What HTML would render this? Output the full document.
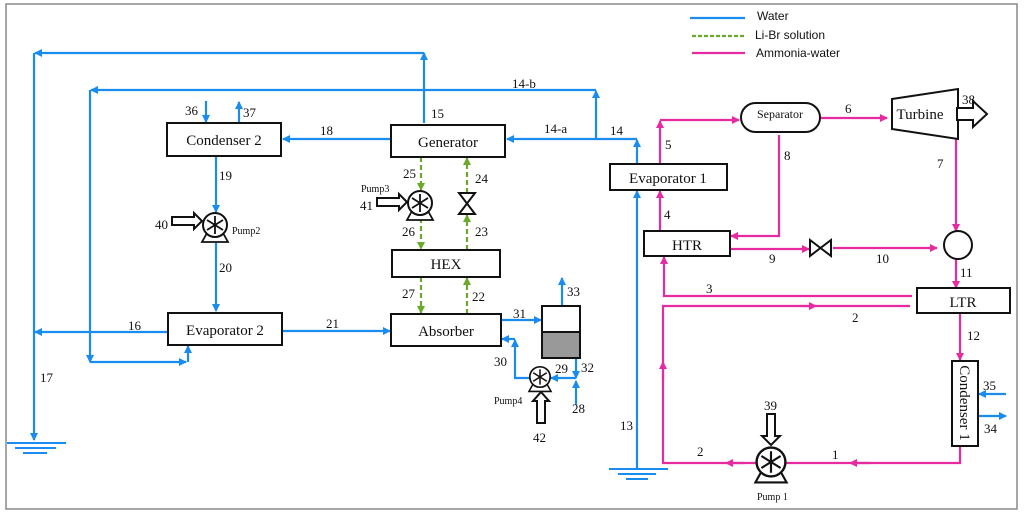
<!DOCTYPE html>
<html><head><meta charset="utf-8"><style>
html,body{margin:0;padding:0;background:#fff;}
svg{display:block;}
.t{font-family:"Liberation Serif",serif;font-size:13px;fill:#111;}
.bx{font-family:"Liberation Serif",serif;font-size:15px;fill:#111;}
.lg{font-family:"Liberation Sans",sans-serif;font-size:12px;fill:#111;}
.b{stroke:#1a8cf0;stroke-width:2.2;fill:none;}
.p{stroke:#e62aa0;stroke-width:2.2;fill:none;}
.g{stroke:#6aaa2a;stroke-width:2.2;fill:none;stroke-dasharray:5,3;}
.k{stroke:#111;stroke-width:2;fill:#fff;}
</style></head><body>
<svg width="1024" height="518" viewBox="0 0 1024 518" xmlns="http://www.w3.org/2000/svg">
<defs>
<marker id="mb" markerWidth="8" markerHeight="8" refX="7" refY="4" orient="auto" markerUnits="userSpaceOnUse"><path d="M0,0 L8,4 L0,8 z" fill="#1a8cf0"/></marker>
<marker id="mp" markerWidth="8" markerHeight="8" refX="7" refY="4" orient="auto" markerUnits="userSpaceOnUse"><path d="M0,0 L8,4 L0,8 z" fill="#e62aa0"/></marker>
<marker id="mg" markerWidth="8" markerHeight="8" refX="7" refY="4" orient="auto" markerUnits="userSpaceOnUse"><path d="M0,0 L8,4 L0,8 z" fill="#6aaa2a"/></marker>
<g id="pump">
<path d="M-8,8 L-13,17 L13,17 L8,8" stroke="#111" stroke-width="1.8" fill="#fff"/>
<circle r="12" stroke="#111" stroke-width="2" fill="#fff"/>
<path d="M0,-9 L0,9 M-8,-5 L8,5 M-8,5 L8,-5" stroke="#111" stroke-width="1.8"/>
</g>
</defs>
<rect x="6" y="4" width="1011" height="505" fill="none" stroke="#888" stroke-width="1.5"/>

<!-- legend -->
<line x1="690" y1="18" x2="745" y2="18" class="b"/>
<text x="757" y="20" class="lg">Water</text>
<line x1="692" y1="36" x2="745" y2="36" class="g" style="stroke-dasharray:4,2"/>
<text x="755" y="39" class="lg">Li-Br solution</text>
<line x1="692" y1="53" x2="745" y2="53" class="p"/>
<text x="756" y="57" class="lg">Ammonia-water</text>

<!-- blue water lines -->
<path d="M424,123 L424,53" class="b" marker-end="url(#mb)"/>
<path d="M424,53 L35,53" class="b" marker-end="url(#mb)"/>
<path d="M34,53 L34,440" class="b" marker-end="url(#mb)"/>
<path d="M7,443 L66,443 M15,448 L56,448 M23,453 L47,453" stroke="#1a8cf0" stroke-width="2"/>
<path d="M596,139 L596,91" class="b" marker-end="url(#mb)"/>
<path d="M596,90 L91,90" class="b" marker-end="url(#mb)"/>
<path d="M90,90 L90,362" class="b" marker-end="url(#mb)"/>
<path d="M90,362 L186,362" class="b" marker-end="url(#mb)"/>
<path d="M188,362 L188,346" class="b" marker-end="url(#mb)"/>
<path d="M637,164 L637,140" class="b" marker-end="url(#mb)"/>
<path d="M637,139 L507,139" class="b" marker-end="url(#mb)"/>
<path d="M391,139 L283,139" class="b" marker-end="url(#mb)"/>
<path d="M206,101 L206,122" class="b" marker-end="url(#mb)"/>
<path d="M239,123 L239,102" class="b" marker-end="url(#mb)"/>
<path d="M216,156 L216,212" class="b" marker-end="url(#mb)"/>
<path d="M216,243 L216,311" class="b" marker-end="url(#mb)"/>
<path d="M168,332 L35,332" class="b" marker-end="url(#mb)"/>
<path d="M282,331 L390,331" class="b" marker-end="url(#mb)"/>
<path d="M501,320 L541,320" class="b" marker-end="url(#mb)"/>
<path d="M562,306 L562,278" class="b" marker-end="url(#mb)"/>
<path d="M576,358 L576,378" class="b" marker-end="url(#mb)"/>
<path d="M576,405 L576,381" class="b" marker-end="url(#mb)"/>
<path d="M576,378 L551,378" class="b" marker-end="url(#mb)"/>
<path d="M530,378 L515,378 L515,340" class="b" marker-end="url(#mb)"/>
<path d="M515,339 L502,339" class="b" marker-end="url(#mb)"/>
<path d="M637,470 L637,191" class="b" marker-end="url(#mb)"/>
<path d="M609,469 L668,469 M618,474 L656,474 M626,479 L648,479" stroke="#1a8cf0" stroke-width="2"/>
<path d="M1006,394 L979,394" class="b" marker-end="url(#mb)"/>
<path d="M978,416 L1006,416" class="b" marker-end="url(#mb)"/>

<!-- green -->
<path d="M421,157 L421,190" class="g" marker-end="url(#mg)"/>
<path d="M421,218 L421,249" class="g" marker-end="url(#mg)"/>
<path d="M467,193 L467,158" class="g" marker-end="url(#mg)"/>
<path d="M467,250 L467,215" class="g" marker-end="url(#mg)"/>
<path d="M421,277 L421,313" class="g" marker-end="url(#mg)"/>
<path d="M467,314 L467,278" class="g" marker-end="url(#mg)"/>

<!-- pink -->
<path d="M660,164 L660,121" class="p" marker-end="url(#mp)"/>
<path d="M660,120 L739,120" class="p" marker-end="url(#mp)"/>
<path d="M819,118 L887,118" class="p" marker-end="url(#mp)"/>
<path d="M956,139 L956,231" class="p" marker-end="url(#mp)"/>
<path d="M779,135 L779,236 L731,236" class="p" marker-end="url(#mp)"/>
<path d="M660,231 L660,191" class="p" marker-end="url(#mp)"/>
<path d="M724,249 L809,249" class="p" marker-end="url(#mp)"/>
<path d="M833,248 L937,248" class="p" marker-end="url(#mp)"/>
<path d="M956,259 L956,288" class="p" marker-end="url(#mp)"/>
<path d="M912,296 L664,296 L664,257" class="p" marker-end="url(#mp)"/>
<path d="M910,306 L663,306 L663,463 L756,463" class="p"/>
<path d="M663,380 L663,362" class="p" marker-end="url(#mp)"/>
<path d="M800,306 L816,306" class="p" marker-end="url(#mp)"/>
<path d="M745,463 L726,463" class="p" marker-end="url(#mp)"/>
<path d="M960,446 L960,463 L785,463" class="p"/>
<path d="M870,463 L850,463" class="p" marker-end="url(#mp)"/>
<path d="M960,313 L960,360" class="p" marker-end="url(#mp)"/>

<!-- boxes -->
<rect x="167" y="123" width="114" height="33" class="k"/><text x="224" y="145" class="bx" text-anchor="middle">Condenser 2</text>
<rect x="391" y="125" width="114" height="32" class="k"/><text x="448" y="147" class="bx" text-anchor="middle">Generator</text>
<rect x="168" y="313" width="114" height="32" class="k"/><text x="225" y="335" class="bx" text-anchor="middle">Evaporator 2</text>
<rect x="392" y="250" width="108" height="27" class="k"/><text x="446" y="269" class="bx" text-anchor="middle">HEX</text>
<rect x="391" y="314" width="110" height="32" class="k"/><text x="446" y="336" class="bx" text-anchor="middle">Absorber</text>
<rect x="610" y="164" width="117" height="26" class="k"/><text x="668" y="183" class="bx" text-anchor="middle">Evaporator 1</text>
<rect x="644" y="231" width="86" height="25" class="k"/><text x="687" y="250" class="bx" text-anchor="middle">HTR</text>
<rect x="917" y="288" width="93" height="25" class="k"/><text x="963" y="307" class="bx" text-anchor="middle">LTR</text>
<rect x="952" y="361" width="26" height="85" class="k"/><text x="0" y="0" class="bx" text-anchor="middle" transform="translate(960,403) rotate(90)">Condenser 1</text>
<rect x="741" y="103" width="79" height="29" rx="14.5" class="k"/><text x="780" y="118" class="t" text-anchor="middle" style="font-size:12px">Separator</text>
<path d="M892,99 L958,89 L958,139 L892,129 Z" class="k"/><text x="920" y="119" class="bx" text-anchor="middle">Turbine</text>
<path d="M957,108 L973,108 L973,101 L987,114 L973,127 L973,120 L957,120 Z" class="k"/>
<circle cx="958" cy="245" r="14" class="k"/>
<rect x="542" y="306" width="38" height="26" class="k"/><rect x="542" y="332" width="38" height="26" stroke="#111" stroke-width="2" fill="#999"/>
<!-- valves -->
<path d="M810,240 L831,256 L831,240 L810,256 Z" class="k"/>
<path d="M459,193 L475,193 L459,214 L475,214 Z" class="k"/>
<!-- pumps -->
<use href="#pump" x="215" y="225"/>
<use href="#pump" x="420" y="203"/>
<use href="#pump" x="540" y="377" transform="translate(540 377) scale(0.85) translate(-540 -377)"/>
<use href="#pump" x="771" y="462" transform="translate(771 462) scale(1.2) translate(-771 -462)"/>
<!-- block arrows -->
<path d="M172,217 L194,217 L194,213 L202,221 L194,229 L194,225 L172,225 Z" class="k"/>
<path d="M377,198 L399,198 L399,194 L407,202 L399,210 L399,206 L377,206 Z" class="k"/>
<path d="M537,423 L537,401 L533,401 L541,392 L549,401 L545,401 L545,423 Z" class="k"/>
<path d="M767,414 L775,414 L775,436 L780,436 L771,445 L762,436 L767,436 Z" class="k"/>

<!-- labels -->
<text x="185" y="115" class="t">36</text><text x="243" y="117" class="t">37</text>
<text x="431" y="118" class="t">15</text><text x="320" y="135" class="t">18</text>
<text x="219" y="180" class="t">19</text><text x="219" y="272" class="t">20</text>
<text x="155" y="229" class="t">40</text><text x="232" y="234" class="t" style="font-size:10px">Pump2</text>
<text x="128" y="330" class="t">16</text><text x="326" y="328" class="t">21</text>
<text x="40" y="382" class="t">17</text>
<text x="403" y="178" class="t">25</text><text x="475" y="183" class="t">24</text>
<text x="361" y="192" class="t" style="font-size:10px">Pump3</text><text x="360" y="210" class="t">41</text>
<text x="402" y="236" class="t">26</text><text x="475" y="236" class="t">23</text>
<text x="402" y="298" class="t">27</text><text x="472" y="301" class="t">22</text>
<text x="513" y="318" class="t">31</text><text x="567" y="296" class="t">33</text>
<text x="494" y="366" class="t">30</text><text x="555" y="373" class="t">29</text><text x="581" y="372" class="t">32</text>
<text x="494" y="404" class="t" style="font-size:10px">Pump4</text><text x="572" y="413" class="t">28</text><text x="533" y="442" class="t">42</text>
<text x="512" y="88" class="t">14-b</text><text x="544" y="133" class="t">14-a</text><text x="610" y="135" class="t">14</text>
<text x="665" y="149" class="t">5</text><text x="845" y="113" class="t">6</text><text x="962" y="104" class="t">38</text>
<text x="784" y="160" class="t">8</text><text x="937" y="168" class="t">7</text>
<text x="664" y="219" class="t">4</text><text x="769" y="263" class="t">9</text><text x="876" y="263" class="t">10</text>
<text x="960" y="277" class="t">11</text><text x="706" y="293" class="t">3</text><text x="852" y="322" class="t">2</text>
<text x="967" y="340" class="t">12</text><text x="983" y="390" class="t">35</text><text x="984" y="433" class="t">34</text>
<text x="620" y="430" class="t">13</text><text x="697" y="456" class="t">2</text><text x="832" y="459" class="t">1</text>
<text x="764" y="410" class="t">39</text><text x="757" y="500" class="t" style="font-size:10px">Pump 1</text>
</svg>
</body></html>
